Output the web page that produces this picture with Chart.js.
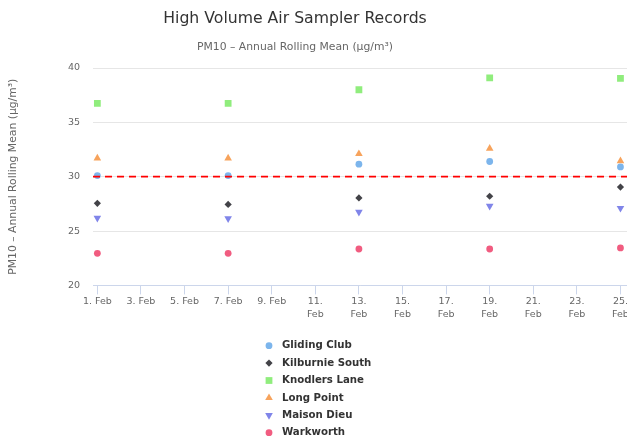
<!DOCTYPE html>
<html>
<head>
<meta charset="utf-8">
<script src="https://cdn.jsdelivr.net/npm/chart.js@4/dist/chart.umd.min.js"></script>
<style>
  html, body { margin: 0; padding: 0; background: #fff; }
  #wrap { width: 627px; height: 439px; position: relative; }
</style>
</head>
<body>
<div id="wrap"><canvas id="grafico-hvas"></canvas></div>
<script>
// Datos del gráfico (día de febrero)
const dias = [1, 7, 13, 19, 25];
const xTickDias = [1, 3, 5, 7, 9, 11, 13, 15, 17, 19, 21, 23, 25];
const yTicks = [20, 25, 30, 35, 40];
const limitePM10 = 30;

const glidingClub = [30.1, 30.1, 31.15, 31.4, 30.9];
const kilburnieSouth = [27.55, 27.45, 28.05, 28.2, 29.05];
const knodlersLane = [36.75, 36.75, 38.0, 39.1, 39.05];
const longPoint = [31.7, 31.7, 32.1, 32.6, 31.45];
const maisonDieu = [26.2, 26.15, 26.75, 27.3, 27.1];
const warkworth = [22.95, 22.95, 23.35, 23.35, 23.45];

const FUENTE = '"DejaVu Sans", "Lucida Grande", Arial, sans-serif';

function puntos(valores) {
  return dias.map((d, i) => ({ x: d, y: valores[i] }));
}

function serie(label, valores, color, estilo, radio, rotacion) {
  return {
    label: label,
    data: puntos(valores),
    backgroundColor: color,
    borderColor: color,
    borderWidth: 0,
    pointStyle: estilo,
    pointRadius: radio,
    pointHoverRadius: radio,
    pointRotation: rotacion || 0,
    showLine: false
  };
}

// Línea de referencia (plotLine) en 30
const lineaLimite = {
  id: 'lineaLimite',
  afterDatasetsDraw(chart) {
    const { ctx, chartArea } = chart;
    const y = chart.scales.y.getPixelForValue(limitePM10);
    ctx.save();
    ctx.strokeStyle = '#ff0000';
    ctx.lineWidth = 1.8;
    ctx.setLineDash([7, 5]);
    ctx.beginPath();
    ctx.moveTo(chartArea.left, y);
    ctx.lineTo(chartArea.right, y);
    ctx.stroke();
    ctx.restore();
  }
};

// Título y subtítulo (centrados como en Highcharts, con ajuste de ancho)
const encabezado = {
  id: 'encabezado',
  afterDraw(chart) {
    const ctx = chart.ctx;
    const cx = (chart.width - 37) / 2;
    ctx.save();
    ctx.textAlign = 'center';
    ctx.textBaseline = 'alphabetic';
    ctx.fillStyle = '#333333';
    ctx.font = '15.7px ' + FUENTE;
    ctx.fillText('High Volume Air Sampler Records', cx, 23);
    ctx.fillStyle = '#666666';
    ctx.font = '10.8px ' + FUENTE;
    ctx.fillText('PM10 \u2013 Annual Rolling Mean (\u00b5g/m\u00b3)', cx, 49.5);
    ctx.restore();
  }
};

// Leyenda vertical centrada debajo del gráfico
const leyendaVertical = {
  id: 'leyendaVertical',
  afterDraw(chart) {
    const ctx = chart.ctx;
    const y0 = chart.height - 93.3;
    const paso = 17.4;
    const xMarca = 269;
    const xTexto = 282;
    ctx.save();
    chart.data.datasets.forEach((ds, i) => {
      const y = y0 + i * paso;
      ctx.fillStyle = ds.backgroundColor;
      ctx.strokeStyle = ds.borderColor;
      Chart.helpers.drawPoint(ctx, {
        pointStyle: ds.pointStyle,
        radius: ds.pointRadius,
        rotation: ds.pointRotation,
        borderWidth: 0
      }, xMarca, y);
      ctx.fillStyle = '#333333';
      ctx.font = 'bold 10.2px ' + FUENTE;
      ctx.textAlign = 'left';
      ctx.textBaseline = 'middle';
      ctx.fillText(ds.label, xTexto, y);
    });
    ctx.restore();
  }
};

const canvas = document.getElementById('grafico-hvas');
new Chart(canvas, {
  type: 'scatter',
  data: {
    datasets: [
      serie('Gliding Club', glidingClub, '#7cb5ec', 'circle', 3.4),
      serie('Kilburnie South', kilburnieSouth, '#434348', 'rectRot', 3.6),
      serie('Knodlers Lane', knodlersLane, '#90ed7d', 'rect', 4.8),
      serie('Long Point', longPoint, '#f7a35c', 'triangle', 4.4),
      serie('Maison Dieu', maisonDieu, '#8085e9', 'triangle', 4.4, 180),
      serie('Warkworth', warkworth, '#f15c80', 'circle', 3.4)
    ]
  },
  options: {
    responsive: true,
    maintainAspectRatio: false,
    animation: false,
    layout: {
      autoPadding: false,
      padding: { top: 68, right: 0, bottom: 118, left: 0 }
    },
    plugins: {
      legend: { display: false },
      title: { display: false },
      tooltip: { enabled: true }
    },
    scales: {
      x: {
        type: 'linear',
        min: 0.8,
        max: 25.3,
        afterBuildTicks: function(scale) {
          scale.ticks = xTickDias.map(v => ({ value: v }));
        },
        afterFit: function(scale) {
          // el área de trazado llega hasta el borde derecho
          scale.paddingRight = 0;
          scale.paddingLeft = 0;
        },
        grid: {
          display: true,
          drawOnChartArea: false,
          drawTicks: true,
          tickLength: 9,
          color: '#ccd6eb'
        },
        border: { display: true, color: '#ccd6eb' },
        ticks: {
          autoSkip: false,
          maxRotation: 0,
          minRotation: 0,
          padding: 0,
          color: '#666666',
          font: { family: FUENTE, size: 9.5, lineHeight: 1.4 },
          callback: function(value) {
            return value >= 11 ? [value + '.', 'Feb'] : value + '. Feb';
          }
        }
      },
      y: {
        min: 20,
        max: 40,
        afterBuildTicks: function(scale) {
          scale.ticks = yTicks.map(v => ({ value: v }));
        },
        afterFit: function(scale) {
          scale.width = 93;
        },
        grid: {
          color: '#e6e6e6',
          drawTicks: false
        },
        border: { display: false },
        ticks: {
          padding: 13,
          color: '#666666',
          font: { family: FUENTE, size: 9.5 }
        },
        title: {
          display: true,
          text: 'PM10 \u2013 Annual Rolling Mean (\u00b5g/m\u00b3)',
          color: '#666666',
          font: { family: FUENTE, size: 10.8 },
          padding: { top: 6.5, bottom: 0 }
        }
      }
    }
  },
  plugins: [lineaLimite, encabezado, leyendaVertical]
});
</script>
</body>
</html>
